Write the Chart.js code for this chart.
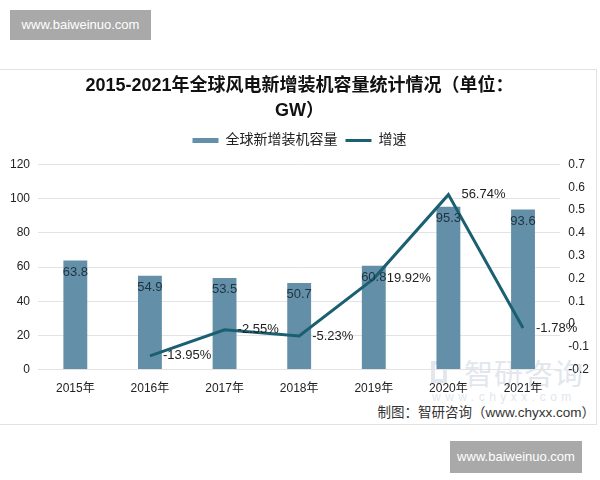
<!DOCTYPE html>
<html>
<head>
<meta charset="utf-8">
<script src="https://cdn.jsdelivr.net/npm/chart.js@4"></script>
<style>
  body { margin: 0; width: 600px; height: 480px; background: #fff; position: relative; overflow: hidden;
         font-family: "Liberation Sans", "Noto Sans CJK SC", sans-serif; }
  .mark { position: absolute; background: #a9a9a9; color: #fff; font-size: 13px; text-align: center; }
  #panel { position: absolute; left: 0; top: 69px; width: 597px; height: 356px;
           border: 1px solid #e2e2e2; border-left: none; box-sizing: border-box; }
  #chart-box { position: absolute; left: 0; top: 0; width: 597px; height: 330px; }
  #source { position: absolute; right: 1px; top: 331px; font-size: 13.5px; color: #333; }
  #logo { position: absolute; left: 464px; top: 286px; font-size: 29px; color: #e2e7ed;
          font-family: "Noto Sans CJK SC", sans-serif; letter-spacing: 1px; line-height: 32px; }
  #logo-icon { position: absolute; left: 431px; top: 291px; width: 16px; height: 22px;
               border: 4px solid #e2e7ed; box-sizing: border-box; }
  #logo-url { position: absolute; left: 432px; top: 320px; font-size: 12px; color: #e2e7ed; letter-spacing: 4.5px; }
</style>
</head>
<body>
<div class="mark" style="left:10px;top:10px;width:141px;height:30px;line-height:30px;">www.baiweinuo.com</div>
<div id="panel">
  <div id="logo-icon"></div>
  <div id="logo">智研咨询</div>
  <div id="logo-url">www.chyxx.com</div>
  <div id="chart-box"><canvas id="chart"></canvas></div>
  <div id="source">制图：智研咨询（www.chyxx.com）</div>
</div>
<div class="mark" style="left:450px;top:441px;width:132px;height:32px;line-height:32px;">www.baiweinuo.com</div>
<script>
// Chart data
const years = ['2015年', '2016年', '2017年', '2018年', '2019年', '2020年', '2021年'];
const capacity = [63.8, 54.9, 53.5, 50.7, 60.8, 95.3, 93.6];
const growth = [null, -0.1395, -0.0255, -0.0523, 0.1992, 0.5674, -0.0178];
const growthLabels = ['', '-13.95%', '-2.55%', '-5.23%', '19.92%', '56.74%', '-1.78%'];
const leftTicks = [0, 20, 40, 60, 80, 100, 120];
const rightTicks = ['-0.2', '-0.1', '0', '0.1', '0.2', '0.3', '0.4', '0.5', '0.6', '0.7'];

const barColor = '#6390a8';
const lineColor = '#1b5f72';
const fontFamily = '"Liberation Sans", "Noto Sans CJK SC", sans-serif';

// Draw value labels on bars and line points
const valueLabels = {
  id: 'valueLabels',
  afterDatasetsDraw(chart) {
    const ctx = chart.ctx;
    ctx.save();
    ctx.font = '13px ' + fontFamily;
    chart.getDatasetMeta(0).data.forEach((bar, i) => {
      ctx.fillStyle = '#1e3340';
      ctx.textAlign = 'center';
      ctx.textBaseline = 'top';
      ctx.fillText(String(capacity[i]), bar.x, bar.y + 5);
    });
    chart.getDatasetMeta(1).data.forEach((pt, i) => {
      if (growth[i] === null) return;
      ctx.fillStyle = '#222';
      ctx.textAlign = 'left';
      ctx.textBaseline = 'middle';
      ctx.fillText(growthLabels[i], pt.x + 13, pt.y);
    });
    ctx.restore();
  }
};

// Extra space under the legend
const legendGap = {
  id: 'legendGap',
  beforeInit(chart) {
    const fit = chart.legend.fit;
    chart.legend.fit = function () {
      fit.bind(chart.legend)();
      this.height += 7;
    };
  }
};

new Chart(document.getElementById('chart'), {
  data: {
    labels: years,
    datasets: [
      {
        type: 'bar',
        label: '全球新增装机容量',
        data: capacity,
        backgroundColor: barColor,
        yAxisID: 'y',
        barPercentage: 0.64,
        categoryPercentage: 0.5,
        pointStyle: 'rect',
        order: 2
      },
      {
        type: 'line',
        label: '增速',
        data: growth,
        borderColor: lineColor,
        backgroundColor: lineColor,
        borderWidth: 3,
        pointRadius: 0,
        tension: 0,
        yAxisID: 'y1',
        pointStyle: 'line',
        order: 1
      }
    ]
  },
  options: {
    responsive: true,
    maintainAspectRatio: false,
    animation: false,
    layout: { padding: { left: 2, right: 0, top: 3, bottom: 0 } },
    plugins: {
      title: {
        display: true,
        text: ['2015-2021年全球风电新增装机容量统计情况（单位：', 'GW）'],
        color: '#111',
        font: { size: 18, weight: 'bold', family: fontFamily, lineHeight: 1.4 },
        padding: { top: 0, bottom: 2 }
      },
      legend: {
        position: 'top',
        labels: {
          usePointStyle: true,
          pointStyleWidth: 26,
          boxHeight: 5,
          padding: 8,
          color: '#222',
          font: { size: 14, family: fontFamily },
          sort: (a, b) => a.datasetIndex - b.datasetIndex
        }
      },
      tooltip: { enabled: false }
    },
    scales: {
      x: {
        grid: { display: false },
        border: { display: false },
        ticks: { color: '#222', font: { size: 12, family: fontFamily }, padding: 4 }
      },
      y: {
        position: 'left',
        min: 0,
        max: 120,
        afterBuildTicks: axis => { axis.ticks = leftTicks.map(v => ({ value: v })); },
        grid: { color: '#e3e3e3', drawTicks: false },
        border: { display: false },
        ticks: { color: '#222', font: { size: 12, family: fontFamily }, padding: 8 }
      },
      y1: {
        position: 'right',
        min: -0.2,
        max: 0.7,
        afterBuildTicks: axis => { axis.ticks = rightTicks.map(v => ({ value: parseFloat(v) })); },
        grid: { display: false, drawTicks: false },
        border: { display: false },
        ticks: {
          color: '#222',
          font: { size: 12, family: fontFamily },
          padding: 8,
          callback: (value, index) => rightTicks[index]
        }
      }
    }
  },
  plugins: [valueLabels, legendGap]
});
</script>
</body>
</html>
